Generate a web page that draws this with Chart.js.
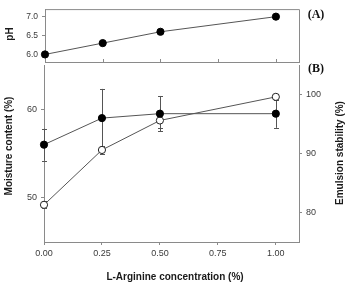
<!DOCTYPE html>
<html><head><meta charset="utf-8">
<script src="https://cdn.jsdelivr.net/npm/chart.js@4.4.1/dist/chart.umd.min.js"></script>
<style>
html,body{margin:0;padding:0;background:#fff;}
#wrap{position:relative;width:347px;height:283px;overflow:hidden;}
canvas{position:absolute;left:0;top:0;}
</style></head><body>
<div id="wrap">
<canvas id="cB" width="347" height="283"></canvas>
<canvas id="cA" width="347" height="283"></canvas>
</div>
<script>
// ---- data ----
const concentration = [0, 0.25, 0.5, 1.0];
const pHValues = [6.0, 6.3, 6.6, 7.0];
const moisture = [56.0, 59.0, 59.5, 59.5];
const moistureErr = [1.8, 3.3, 2.0, 1.6];
const emulsion = [81.3, 90.6, 95.6, 99.6];
const emulsionErr = [0.6, 0.7, 1.3, 0.5];
const xTicks = [0, 0.25, 0.5, 0.75, 1.0];
const pHTicks = [6.0, 6.5, 7.0];
const moistureTicks = [50, 60];
const emulsionTicks = [80, 90, 100];
const panelLabels = ['(A)', '(B)'];
const axisTitles = {
  pH: 'pH',
  x: 'L-Arginine concentration (%)',
  moisture: 'Moisture content (%)',
  emulsion: 'Emulsion stability (%)'
};

Chart.defaults.font.family = '"Liberation Sans", Arial, sans-serif';
Chart.defaults.animation = false;

const AXIS = '#8a8a8a', LINE = '#555', TICK = '#3a3a3a', TITLE = '#1a1a1a';
const TITLE_FONT = 'bold 10px "Liberation Sans", Arial, sans-serif';
const pts = (xs, ys) => xs.map((x, i) => ({x, y: ys[i]}));
const setTicks = arr => s => { s.ticks = arr.map(v => ({value: v})); };

function rotatedText(ctx, text, x, y) {
  ctx.save();
  ctx.translate(x, y); ctx.rotate(-Math.PI / 2);
  ctx.fillText(text, 0, 0);
  ctx.restore();
}

// ---- Panel A ----
const panelAPlugin = {
  id: 'panelA',
  afterDraw(chart) {
    const {ctx, chartArea: a, scales} = chart;
    ctx.save();
    ctx.strokeStyle = AXIS; ctx.lineWidth = 1;
    ctx.beginPath();
    ctx.moveTo(a.left, a.top + 0.5); ctx.lineTo(a.right + 0.5, a.top + 0.5);
    ctx.lineTo(a.right + 0.5, a.bottom);
    ctx.stroke();
    xTicks.slice(1).forEach(v => {
      const x = Math.round(scales.x.getPixelForValue(v)) + 0.5;
      ctx.beginPath(); ctx.moveTo(x, a.bottom); ctx.lineTo(x, a.bottom - 3); ctx.stroke();
    });
    ctx.fillStyle = '#111';
    ctx.font = 'bold 12px "Liberation Serif", "Times New Roman", serif';
    ctx.textAlign = 'center'; ctx.textBaseline = 'middle';
    ctx.fillText(panelLabels[0], 316, 15);
    ctx.fillStyle = TITLE; ctx.font = TITLE_FONT;
    rotatedText(ctx, axisTitles.pH, 10, 34);
    ctx.restore();
  }
};

new Chart(document.getElementById('cA'), {
  type: 'line',
  data: { datasets: [{
    data: pts(concentration, pHValues),
    borderColor: LINE, borderWidth: 1,
    pointRadius: 3.6, pointBackgroundColor: '#000', pointBorderColor: '#000', pointBorderWidth: 1,
    clip: false
  }]},
  options: {
    responsive: false, devicePixelRatio: 1,
    layout: { padding: { top: 7, right: 48, bottom: 221, left: 0 } },
    plugins: { legend: { display: false }, tooltip: { enabled: false } },
    scales: {
      x: { type: 'linear', min: 0, max: 1.1,
        afterBuildTicks: setTicks(xTicks),
        ticks: { display: false },
        grid: { display: false, drawTicks: false },
        border: { display: true, color: AXIS },
        afterFit: s => { s.height = 0; } },
      y: { min: 5.8, max: 7.2,
        afterBuildTicks: setTicks(pHTicks),
        ticks: { color: TICK, font: { size: 8.5 }, padding: 4, callback: v => v.toFixed(1) },
        grid: { drawOnChartArea: false, tickLength: 3, color: AXIS },
        border: { color: AXIS },
        afterFit: s => { s.width = 45; } }
    }
  },
  plugins: [panelAPlugin]
});

// ---- Panel B ----
const panelBPlugin = {
  id: 'panelB',
  beforeDatasetsDraw(chart) {
    const {ctx, scales} = chart;
    ctx.save();
    ctx.strokeStyle = LINE; ctx.lineWidth = 1;
    chart.data.datasets.forEach(ds => {
      const ys = scales[ds.yAxisID];
      ds.errors.forEach((e, i) => {
        const v = ds.data[i].y;
        const x = Math.round(scales.x.getPixelForValue(concentration[i])) + 0.5;
        const y1 = ys.getPixelForValue(v + e), y2 = ys.getPixelForValue(v - e);
        ctx.beginPath();
        ctx.moveTo(x, y1); ctx.lineTo(x, y2);
        ctx.moveTo(x - 2.5, Math.round(y1) + 0.5); ctx.lineTo(x + 2.5, Math.round(y1) + 0.5);
        ctx.moveTo(x - 2.5, Math.round(y2) + 0.5); ctx.lineTo(x + 2.5, Math.round(y2) + 0.5);
        ctx.stroke();
      });
    });
    ctx.restore();
  },
  afterDraw(chart) {
    const {ctx} = chart;
    ctx.save();
    ctx.fillStyle = '#111';
    ctx.font = 'bold 12px "Liberation Serif", "Times New Roman", serif';
    ctx.textAlign = 'center'; ctx.textBaseline = 'middle';
    ctx.fillText(panelLabels[1], 316, 69);
    ctx.fillStyle = TITLE; ctx.font = TITLE_FONT;
    ctx.fillText(axisTitles.x, 175, 277);
    rotatedText(ctx, axisTitles.moisture, 9, 146);
    rotatedText(ctx, axisTitles.emulsion, 340, 153);
    ctx.restore();
  }
};

new Chart(document.getElementById('cB'), {
  type: 'line',
  data: { datasets: [
    { data: pts(concentration, moisture), errors: moistureErr, yAxisID: 'y',
      borderColor: LINE, borderWidth: 1,
      pointRadius: 3.6, pointBackgroundColor: '#000', pointBorderColor: '#000', pointBorderWidth: 1, clip: false },
    { data: pts(concentration, emulsion), errors: emulsionErr, yAxisID: 'y1',
      borderColor: LINE, borderWidth: 1,
      pointRadius: 3.6, pointBackgroundColor: '#fff', pointBorderColor: '#222', pointBorderWidth: 1, clip: false }
  ]},
  options: {
    responsive: false, devicePixelRatio: 1,
    layout: { padding: { top: 65, right: 0, bottom: 0, left: 0 } },
    plugins: { legend: { display: false }, tooltip: { enabled: false } },
    scales: {
      x: { type: 'linear', position: 'bottom', min: 0, max: 1.1,
        afterBuildTicks: setTicks(xTicks),
        ticks: { color: TICK, font: { size: 9 }, padding: 3, maxRotation: 0, callback: v => v.toFixed(2) },
        grid: { drawOnChartArea: false, tickLength: 3, color: AXIS },
        border: { color: AXIS },
        afterFit: s => { s.height = 41; } },
      y: { position: 'left', min: 45, max: 65,
        afterBuildTicks: setTicks(moistureTicks),
        ticks: { color: TICK, font: { size: 9 }, padding: 4 },
        grid: { drawOnChartArea: false, tickLength: 3, color: AXIS },
        border: { color: AXIS },
        afterFit: s => { s.width = 44; } },
      y1: { position: 'right', min: 75, max: 105,
        afterBuildTicks: setTicks(emulsionTicks),
        ticks: { color: TICK, font: { size: 9 }, padding: 4 },
        grid: { drawOnChartArea: false, tickLength: 3, color: AXIS },
        border: { color: AXIS },
        afterFit: s => { s.width = 48; } }
    }
  },
  plugins: [panelBPlugin]
});
</script>
</body></html>
